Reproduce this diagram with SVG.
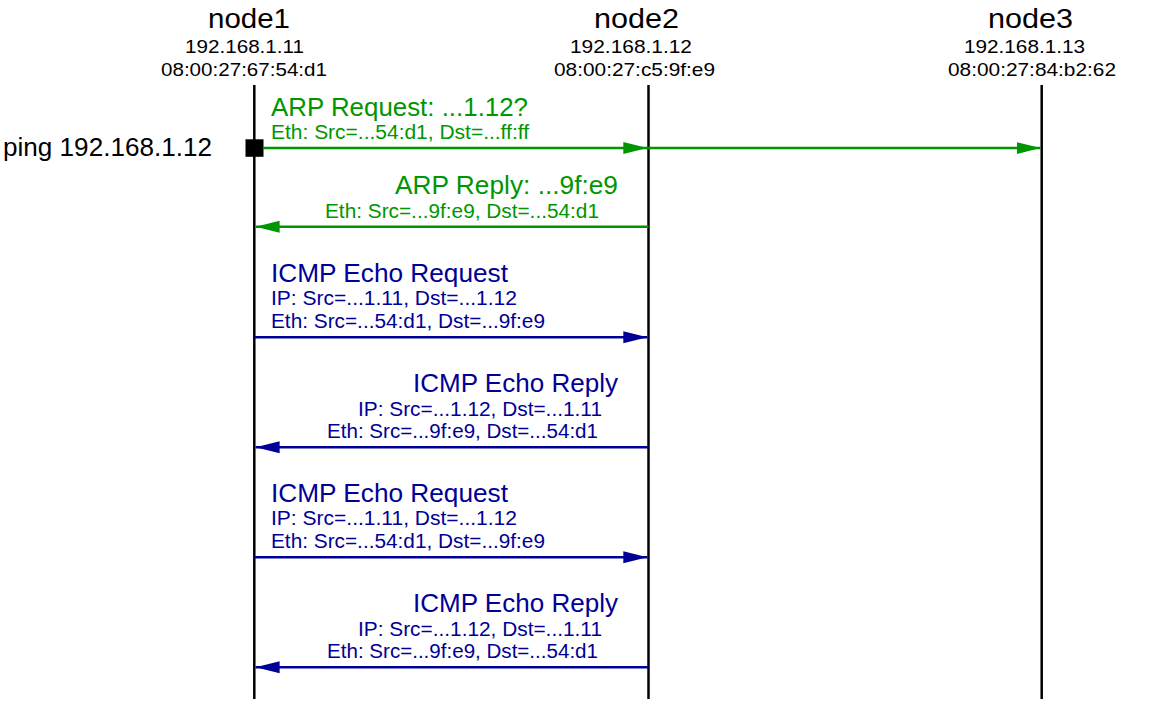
<svg xmlns="http://www.w3.org/2000/svg" width="1153" height="703" viewBox="0 0 1153 703">
<style>
text{font-family:"Liberation Sans",Arial,sans-serif}
.hd{font-size:27px;fill:#000}
.ad{font-size:19px;fill:#000}
.ti{font-size:25px}
.sb{font-size:20px}
.g{fill:#009600}
.b{fill:#000096}
.life{stroke:#000;stroke-width:2.5;fill:none}
.lg{stroke:#009600;stroke-width:2.5;fill:none}
.lb{stroke:#000096;stroke-width:2.5;fill:none}
</style>
<defs>
<marker id="ag" markerUnits="userSpaceOnUse" markerWidth="25" markerHeight="13" refX="24" refY="6.5" orient="auto"><path d="M0,0.5 L24,6.5 L0,12.5 z" fill="#009600"/></marker>
<marker id="ab" markerUnits="userSpaceOnUse" markerWidth="25" markerHeight="13" refX="24" refY="6.5" orient="auto"><path d="M0,0.5 L24,6.5 L0,12.5 z" fill="#000096"/></marker>
</defs>
<rect width="1153" height="703" fill="#fff"/>
<g id="node1">
<text class="hd" x="208" y="28" textLength="82" lengthAdjust="spacingAndGlyphs">node1</text>
<text class="ad" x="185" y="53" textLength="119" lengthAdjust="spacingAndGlyphs">192.168.1.11</text>
<text class="ad" x="161" y="76" textLength="166" lengthAdjust="spacingAndGlyphs">08:00:27:67:54:d1</text>
<line class="life" x1="254.3" y1="85" x2="254.3" y2="699"/>
<rect x="245.5" y="139.3" width="18" height="17.5" fill="#000"/>
<text class="ti" x="3" y="156" textLength="209" lengthAdjust="spacingAndGlyphs">ping 192.168.1.12</text>
</g>
<g id="node2">
<text class="hd" x="594" y="28" textLength="85" lengthAdjust="spacingAndGlyphs">node2</text>
<text class="ad" x="570" y="53" textLength="122" lengthAdjust="spacingAndGlyphs">192.168.1.12</text>
<text class="ad" x="554" y="76" textLength="161" lengthAdjust="spacingAndGlyphs">08:00:27:c5:9f:e9</text>
<line class="life" x1="648.5" y1="85" x2="648.5" y2="699"/>
</g>
<g id="node3">
<text class="hd" x="988" y="28" textLength="85" lengthAdjust="spacingAndGlyphs">node3</text>
<text class="ad" x="964" y="53" textLength="121" lengthAdjust="spacingAndGlyphs">192.168.1.13</text>
<text class="ad" x="948" y="76" textLength="168" lengthAdjust="spacingAndGlyphs">08:00:27:84:b2:62</text>
<line class="life" x1="1041.7" y1="85" x2="1041.7" y2="699"/>
</g>
<g id="connectors">
<line class="lg" x1="263" y1="148" x2="647.3" y2="148" marker-end="url(#ag)"/>
<line class="lg" x1="647.3" y1="148" x2="1040.5" y2="148" marker-end="url(#ag)"/>
<text class="ti g" x="271" y="116" textLength="257" lengthAdjust="spacingAndGlyphs">ARP Request: ...1.12?</text>
<text class="sb g" x="271" y="139" textLength="258" lengthAdjust="spacingAndGlyphs">Eth: Src=...54:d1, Dst=...ff:ff</text>

<line class="lg" x1="648.5" y1="226.7" x2="255.6" y2="226.7" marker-end="url(#ag)"/>
<text class="ti g" x="395" y="194" textLength="223" lengthAdjust="spacingAndGlyphs">ARP Reply: ...9f:e9</text>
<text class="sb g" x="325" y="218" textLength="274" lengthAdjust="spacingAndGlyphs">Eth: Src=...9f:e9, Dst=...54:d1</text>

<line class="lb" x1="254.3" y1="337.3" x2="647.3" y2="337.3" marker-end="url(#ab)"/>
<text class="ti b" x="271" y="282" textLength="237" lengthAdjust="spacingAndGlyphs">ICMP Echo Request</text>
<text class="sb b" x="271" y="305" textLength="246" lengthAdjust="spacingAndGlyphs">IP: Src=...1.11, Dst=...1.12</text>
<text class="sb b" x="271" y="328" textLength="274" lengthAdjust="spacingAndGlyphs">Eth: Src=...54:d1, Dst=...9f:e9</text>

<line class="lb" x1="648.5" y1="447.3" x2="255.6" y2="447.3" marker-end="url(#ab)"/>
<text class="ti b" x="413" y="392" textLength="205" lengthAdjust="spacingAndGlyphs">ICMP Echo Reply</text>
<text class="sb b" x="358" y="416" textLength="244" lengthAdjust="spacingAndGlyphs">IP: Src=...1.12, Dst=...1.11</text>
<text class="sb b" x="327" y="438" textLength="271" lengthAdjust="spacingAndGlyphs">Eth: Src=...9f:e9, Dst=...54:d1</text>

<line class="lb" x1="254.3" y1="557.3" x2="647.3" y2="557.3" marker-end="url(#ab)"/>
<text class="ti b" x="271" y="502" textLength="237" lengthAdjust="spacingAndGlyphs">ICMP Echo Request</text>
<text class="sb b" x="271" y="525" textLength="246" lengthAdjust="spacingAndGlyphs">IP: Src=...1.11, Dst=...1.12</text>
<text class="sb b" x="271" y="548" textLength="274" lengthAdjust="spacingAndGlyphs">Eth: Src=...54:d1, Dst=...9f:e9</text>

<line class="lb" x1="648.5" y1="667.3" x2="255.6" y2="667.3" marker-end="url(#ab)"/>
<text class="ti b" x="413" y="612" textLength="205" lengthAdjust="spacingAndGlyphs">ICMP Echo Reply</text>
<text class="sb b" x="358" y="636" textLength="244" lengthAdjust="spacingAndGlyphs">IP: Src=...1.12, Dst=...1.11</text>
<text class="sb b" x="327" y="658" textLength="271" lengthAdjust="spacingAndGlyphs">Eth: Src=...9f:e9, Dst=...54:d1</text>
</g>
</svg>
